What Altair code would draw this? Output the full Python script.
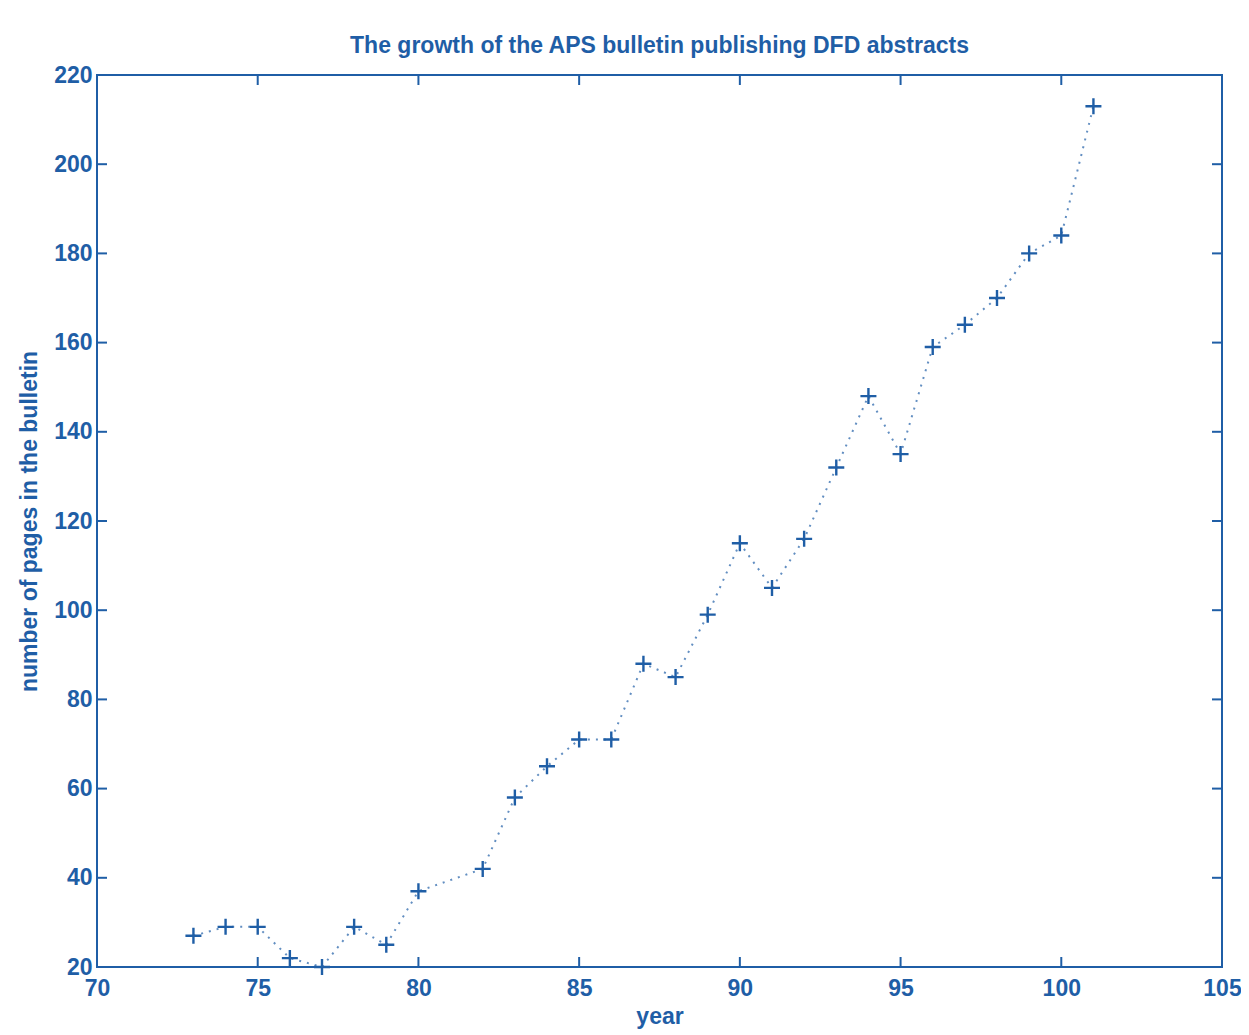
import altair as alt
import pandas as pd

years = [73, 74, 75, 76, 77, 78, 79, 80, 82, 83, 84, 85, 86, 87, 88, 89, 90,
         91, 92, 93, 94, 95, 96, 97, 98, 99, 100, 101]
pages = [27, 29, 29, 22, 20, 29, 25, 37, 42, 58, 65, 71, 71, 88, 85, 99, 115,
         105, 116, 132, 148, 135, 159, 164, 170, 180, 184, 213]
x_ticks = [70, 75, 80, 85, 90, 95, 100, 105]
y_ticks = [20, 40, 60, 80, 100, 120, 140, 160, 180, 200, 220]

BLUE = "#1f5ea6"
FONT = "Liberation Sans"
W, H = 1125, 892
TICK = 10
FS = 23

df = pd.DataFrame({"year": years, "pages": pages})
xt = pd.DataFrame({"t": x_ticks})
yt = pd.DataFrame({"t": y_ticks})

xs = alt.Scale(domain=[70, 105], nice=False, zero=False)
ys = alt.Scale(domain=[20, 220], nice=False, zero=False)

xaxis = alt.Axis(values=x_ticks, grid=False, domain=False, ticks=False,
                 labelFlush=False, labelBound=False,
                 labelFontSize=FS, labelColor=BLUE, labelFont=FONT, labelFontWeight="bold",
                 labelPadding=10,
                 title="year", titleFontSize=FS, titleColor=BLUE, titleFont=FONT,
                 titleFontWeight="bold", titlePadding=5)
yaxis = alt.Axis(values=y_ticks, grid=False, domain=False, ticks=False,
                 labelFlush=False, labelBound=False,
                 labelFontSize=FS, labelColor=BLUE, labelFont=FONT, labelFontWeight="bold",
                 labelPadding=5,
                 title="number of pages in the bulletin", titleFontSize=FS,
                 titleColor=BLUE, titleFont=FONT, titleFontWeight="bold",
                 titlePadding=12)

line = alt.Chart(df).mark_line(color=BLUE, strokeWidth=2, strokeDash=[2, 6],
                               opacity=0.7).encode(
    x=alt.X("year:Q", scale=xs, axis=xaxis),
    y=alt.Y("pages:Q", scale=ys, axis=yaxis),
)
pts = alt.Chart(df).mark_point(shape="M-1,0L1,0M0,-1L0,1", filled=False,
                               color=BLUE, strokeWidth=2.4, size=256,
                               opacity=1).encode(
    x=alt.X("year:Q", scale=xs),
    y=alt.Y("pages:Q", scale=ys),
)

tb = alt.Chart(xt).mark_rule(color=BLUE, strokeWidth=2).encode(
    x=alt.X("t:Q", scale=xs), y=alt.value(H), y2=alt.value(H - TICK))
tt = alt.Chart(xt).mark_rule(color=BLUE, strokeWidth=2).encode(
    x=alt.X("t:Q", scale=xs), y=alt.value(0), y2=alt.value(TICK))
tl = alt.Chart(yt).mark_rule(color=BLUE, strokeWidth=2).encode(
    y=alt.Y("t:Q", scale=ys), x=alt.value(0), x2=alt.value(TICK))
tr = alt.Chart(yt).mark_rule(color=BLUE, strokeWidth=2).encode(
    y=alt.Y("t:Q", scale=ys), x=alt.value(W), x2=alt.value(W - TICK))

chart = alt.layer(tb, tt, tl, tr, line, pts).properties(
    width=W, height=H,
    background="white",
    title=alt.TitleParams("The growth of the APS bulletin publishing DFD abstracts",
                          fontSize=FS, color=BLUE, font=FONT, fontWeight="bold",
                          offset=6),
    padding={"left": 89, "top": 67, "right": 19, "bottom": 67},
    autosize=alt.AutoSizeParams(type="none"),
).configure_view(stroke=BLUE, strokeWidth=2)

chart.save("out.html", embed_options={"renderer": "svg", "actions": False})
